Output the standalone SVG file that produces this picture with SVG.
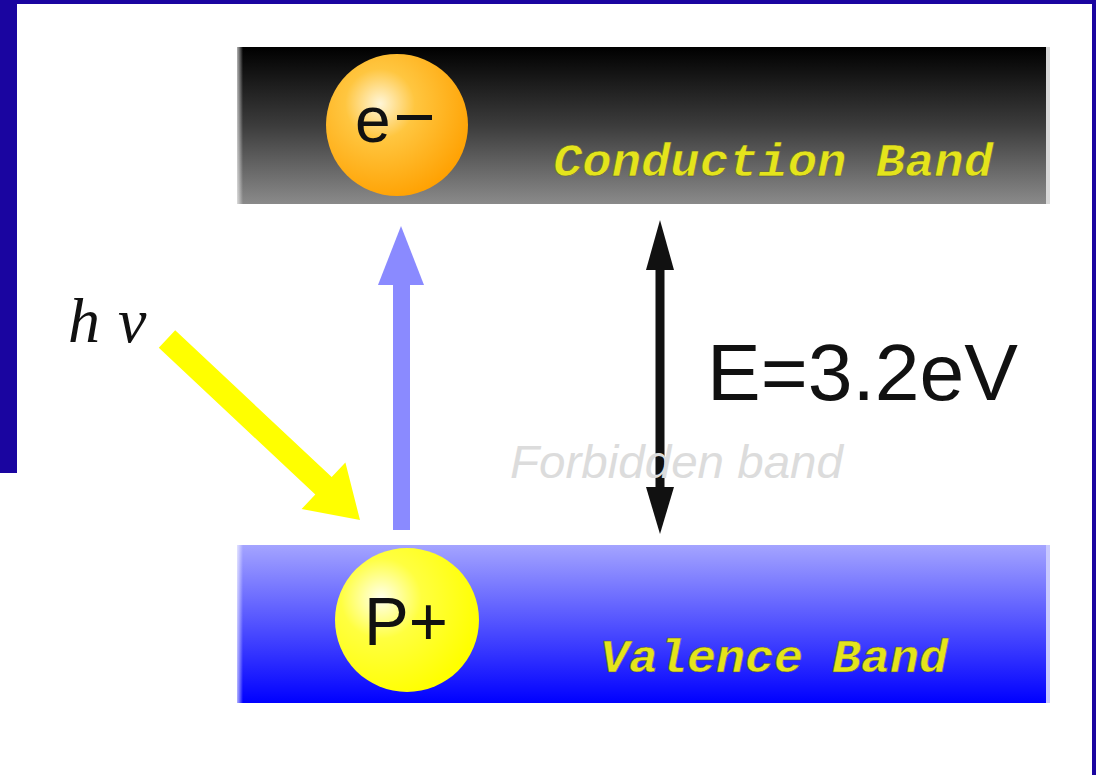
<svg xmlns="http://www.w3.org/2000/svg" width="1096" height="775" viewBox="0 0 1096 775">
  <style>
    .band-label { font-family: "Liberation Mono", "DejaVu Sans Mono", monospace; font-style: italic; font-weight: bold; font-size: 46px; fill: #e4e41c; stroke: #55553a; stroke-width: 0.5px; }
    .sans { font-family: "Liberation Sans", Arial, sans-serif; }
  </style>
  <defs>
    <linearGradient id="gCond" x1="0" y1="0" x2="0" y2="1">
      <stop offset="0" stop-color="#000000"/>
      <stop offset="0.5" stop-color="#3c3c3c"/>
      <stop offset="1" stop-color="#8a8a8a"/>
    </linearGradient>
    <linearGradient id="gVal" x1="0" y1="0" x2="0" y2="1">
      <stop offset="0" stop-color="#a4a4ff"/>
      <stop offset="0.45" stop-color="#5a5aff"/>
      <stop offset="1" stop-color="#0000ff"/>
    </linearGradient>
    <linearGradient id="gEdge" x1="0" y1="0" x2="1" y2="0">
      <stop offset="0" stop-color="#ffffff" stop-opacity="0.7"/>
      <stop offset="1" stop-color="#ffffff" stop-opacity="0"/>
    </linearGradient>
    <radialGradient id="gElectron" cx="0.38" cy="0.35" r="0.7">
      <stop offset="0" stop-color="#fff6d8"/>
      <stop offset="0.35" stop-color="#ffc640"/>
      <stop offset="1" stop-color="#ffa000"/>
    </radialGradient>
    <radialGradient id="gHole" cx="0.32" cy="0.35" r="0.7">
      <stop offset="0" stop-color="#ffffee"/>
      <stop offset="0.4" stop-color="#ffff40"/>
      <stop offset="1" stop-color="#ffff00"/>
    </radialGradient>
  </defs>

  <rect width="1096" height="775" fill="#ffffff"/>

  <g id="frame" fill="#1a05a0">
    <rect x="0" y="0" width="1096" height="4"/>
    <rect x="0" y="0" width="17" height="473"/>
    <rect x="1092" y="0" width="4" height="775"/>
  </g>

  <g id="conduction-band">
    <rect x="237" y="47" width="813" height="157" fill="url(#gCond)"/>
    <rect x="237" y="47" width="6" height="157" fill="url(#gEdge)"/>
    <rect x="1046" y="47" width="4" height="157" fill="#d8d8d8"/>
    <text class="band-label" x="553" y="176" textLength="440" lengthAdjust="spacingAndGlyphs">Conduction Band</text>
  </g>

  <g id="valence-band">
    <rect x="237" y="545" width="813" height="158" fill="url(#gVal)"/>
    <rect x="237" y="545" width="6" height="158" fill="url(#gEdge)"/>
    <rect x="1046" y="545" width="4" height="158" fill="#c8c8ff"/>
    <text class="band-label" x="600" y="672" textLength="348" lengthAdjust="spacingAndGlyphs">Valence Band</text>
  </g>

  <g id="connectors">
    <polygon id="photon-arrow" fill="#ffff00" points="175.2,330.3 331.7,477.1 345.4,462.5 360,520 301.6,509.1 315.3,494.5 158.8,347.7"/>
    <g id="excitation-arrow">
      <rect x="393" y="280" width="17" height="250" fill="#8a8aff"/>
      <polygon points="401,226 424,285 378,285" fill="#8a8aff"/>
    </g>
    <g id="gap-arrow" fill="#111111">
      <rect x="655.5" y="262" width="9" height="232"/>
      <polygon points="660,220 674,270 646,270"/>
      <polygon points="660,534 674,487 646,487"/>
    </g>
  </g>

  <g id="electron">
    <circle cx="397" cy="125" r="71" fill="url(#gElectron)"/>
    <text class="sans" x="355" y="142" font-size="64" fill="#111">e</text>
    <rect x="397" y="115" width="35" height="5" fill="#111"/>
  </g>

  <g id="hole">
    <circle cx="407" cy="620" r="72" fill="url(#gHole)"/>
    <text class="sans" x="364" y="645" font-size="68" fill="#111" textLength="84" lengthAdjust="spacingAndGlyphs">P+</text>
  </g>

  <g id="labels">
    <text x="68" y="342" font-family="Liberation Serif, serif" font-style="italic" font-size="64" fill="#111" letter-spacing="18">hν</text>
    <text class="sans" x="707" y="400" font-size="80" fill="#111" textLength="311" lengthAdjust="spacingAndGlyphs">E=3.2eV</text>
    <text class="sans" x="510" y="478" font-size="47" font-style="italic" fill="#dcdcdc" textLength="333" lengthAdjust="spacingAndGlyphs">Forbidden band</text>
  </g>
</svg>
